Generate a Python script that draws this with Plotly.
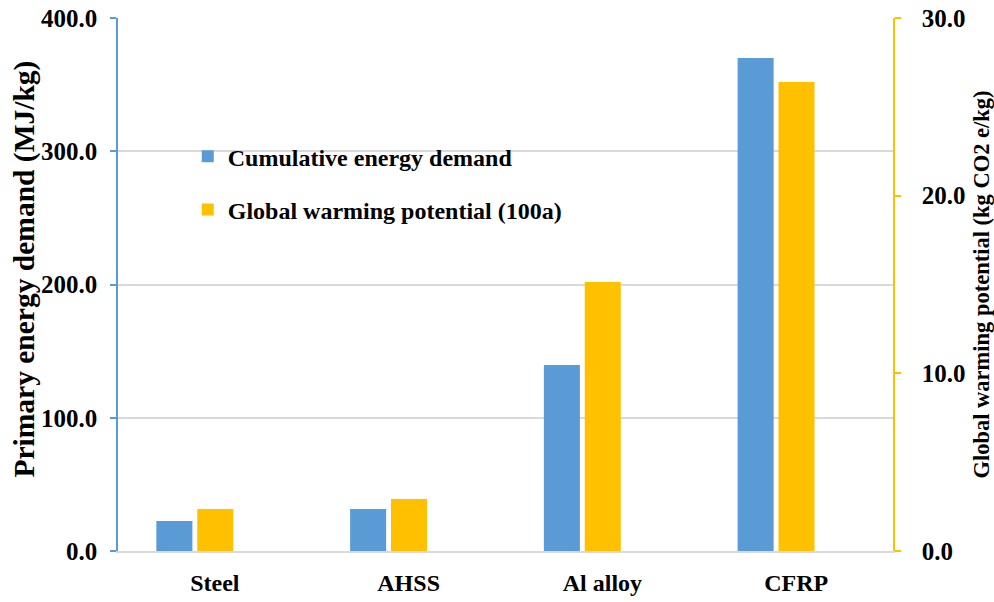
import plotly.graph_objects as go

materials = ["Steel", "AHSS", "Al alloy", "CFRP"]
energy_demand = [22.5, 31.5, 139.6, 370.0]      # MJ/kg
warming_potential = [2.36, 2.93, 15.14, 26.4]  # kg CO2 e/kg

energy_ticks = [0, 100, 200, 300, 400]
warming_ticks = [0, 10, 20, 30]

BLUE = "#5B9BD5"
GOLD = "#FFC000"
GRID = "#D9D9D9"
FONT = "Liberation Serif"

fig = go.Figure()
fig.add_trace(go.Bar(
    x=materials, y=energy_demand, name="Cumulative energy demand",
    marker=dict(color=BLUE, line=dict(width=0)),
    width=0.186, offset=-0.302, yaxis="y", legendgroup="a",
))
fig.add_trace(go.Bar(
    x=materials, y=warming_potential, name="Global warming potential (100a)",
    marker=dict(color=GOLD, line=dict(width=0)),
    width=0.186, offset=-0.091, yaxis="y2", legendgroup="b",
))

fig.update_layout(
    width=994, height=602,
    margin=dict(l=118, r=101, t=18, b=51),
    paper_bgcolor="white", plot_bgcolor="white",
    font=dict(family=FONT, color="black"),
    barmode="overlay",
    xaxis=dict(
        showgrid=False, showline=True, linecolor=GRID, linewidth=2,
        ticks="", tickfont=dict(size=24, family=FONT, color="black", weight="bold"),
        ticklabelstandoff=9, range=[-0.5, 3.5], automargin=False,
    ),
    yaxis=dict(
        range=[0, 400], tickvals=energy_ticks,
        ticktext=[f"{v:.1f}" for v in energy_ticks],
        showgrid=True, gridcolor=GRID, gridwidth=2,
        showline=True, linecolor=BLUE, linewidth=1.5,
        ticks="outside", ticklen=6, tickcolor=BLUE, tickwidth=1.5,
        tickfont=dict(size=25, family=FONT, color="black", weight="bold"),
        ticklabelstandoff=8, zeroline=False, automargin=False,
    ),
    yaxis2=dict(
        range=[0, 30], tickvals=warming_ticks,
        ticktext=[f"{v:.1f}" for v in warming_ticks],
        overlaying="y", side="right", showgrid=False,
        showline=True, linecolor=GOLD, linewidth=1.5,
        ticks="outside", ticklen=6, tickcolor=GOLD, tickwidth=1.5,
        tickfont=dict(size=25, family=FONT, color="black", weight="bold"),
        ticklabelstandoff=16, zeroline=False, automargin=False,
        title=dict(text="Global warming potential (kg CO2 e/kg)", standoff=16,
                   font=dict(size=22.5, family=FONT, color="black", weight="bold")),
    ),
    legend=dict(
        x=0.09, y=0.782, xanchor="left", yanchor="top",
        bgcolor="rgba(0,0,0,0)", tracegroupgap=19, itemwidth=30,
        font=dict(size=24, family=FONT, color="black", weight="bold"),
    ),
)

# Left axis title, placed as a rotated annotation
fig.add_annotation(
    text="Primary energy demand (MJ/kg)",
    xref="paper", yref="paper", x=-0.12, y=0.528,
    xanchor="center", yanchor="middle", textangle=-90, showarrow=False,
    font=dict(size=29.5, family=FONT, color="black", weight="bold"),
)

fig.write_html("out.html")
